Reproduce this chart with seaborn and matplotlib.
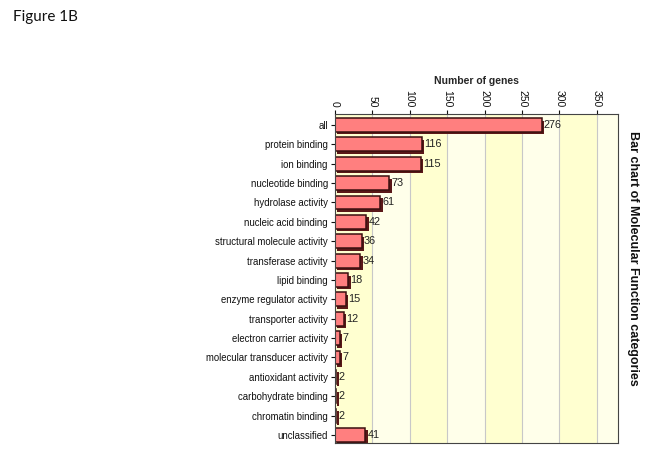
import pandas as pd
import matplotlib.pyplot as plt
import matplotlib.patheffects as pe
import seaborn as sns

# data
categories = ['all', 'protein binding', 'ion binding', 'nucleotide binding',
              'hydrolase activity', 'nucleic acid binding',
              'structural molecule activity', 'transferase activity',
              'lipid binding', 'enzyme regulator activity',
              'transporter activity', 'electron carrier activity',
              'molecular transducer activity', 'antioxidant activity',
              'carbohydrate binding', 'chromatin binding', 'unclassified']
genes = [276, 116, 115, 73, 61, 42, 36, 34, 18, 15, 12, 7, 7, 2, 2, 2, 41]
xticks = [0, 50, 100, 150, 200, 250, 300, 350]

df = pd.DataFrame({'category': categories, 'genes': genes})

sns.set_style('white')
plt.rcParams['font.family'] = ['Liberation Sans', 'DejaVu Sans']
plt.rcParams['text.color'] = '#111111'
plt.rcParams['xtick.color'] = '#111111'
plt.rcParams['ytick.color'] = '#111111'

fig = plt.figure(figsize=(6.45, 4.54), dpi=100)
ax = fig.add_axes([0.519, 0.024, 0.439, 0.725])

# alternating yellow bands
xmax = 378
for i, x0 in enumerate(range(0, 400, 50)):
    col = '#ffffd0' if i % 2 == 0 else '#ffffea'
    ax.axvspan(x0, min(x0 + 50, xmax), color=col, zorder=0, lw=0)
for x in xticks[1:]:
    ax.axvline(x, color='#c8c8c8', lw=0.8, zorder=0.5)

sns.barplot(data=df, x='genes', y='category', color='#ff7f7f', width=0.72,
            edgecolor='#3a1010', linewidth=1.1, saturation=1, ax=ax, zorder=2)
for p in ax.patches:
    p.set_path_effects([pe.SimplePatchShadow(offset=(1.8, -1.8),
                                             shadow_rgbFace='#5a1818', alpha=1),
                        pe.Normal()])

for i, v in enumerate(genes):
    ax.text(v + 2.8, i, str(v), va='center', ha='left', fontsize=7.8,
            color='#222222', zorder=3)

ax.set_xlim(0, xmax)
ax.set_ylim(16.42, -0.57)
ax.xaxis.tick_top()
ax.xaxis.set_label_position('top')
ax.set_xticks(xticks)
ax.set_xticklabels([str(t) for t in xticks], rotation=-90, fontsize=7.5)
ax.tick_params(axis='x', length=3, pad=2, direction='out', top=True)
ax.tick_params(axis='y', length=3, pad=2, labelsize=6.9, left=True)
ax.set_xlabel('Number of genes', fontsize=7.5, fontweight='bold', labelpad=4)
ax.set_ylabel('')
for s in ax.spines.values():
    s.set_color('#444444')
    s.set_linewidth(0.8)

fig.text(0.982, 0.43, 'Bar chart of Molecular Function categories',
         rotation=-90, fontsize=9, fontweight='bold', ha='center', va='center')
fig.text(0.02, 0.962, 'Figure 1B', fontsize=11, family='Lato',
         ha='left', va='center')

fig.savefig('out.png', dpi=100)
